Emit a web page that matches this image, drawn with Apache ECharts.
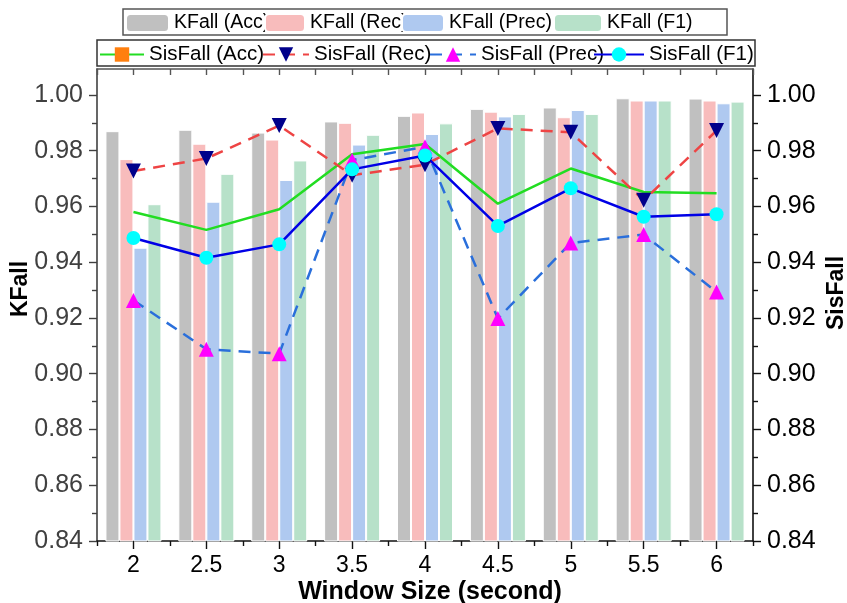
<!DOCTYPE html>
<html>
<head>
<meta charset="utf-8">
<script src="https://cdn.jsdelivr.net/npm/echarts@6/dist/echarts.min.js"></script>
<style>html,body{margin:0;padding:0;background:#fff}#c{width:847px;height:603px}</style>
</head>
<body>
<div id="c"></div>
<script>
var categories = ['2', '2.5', '3', '3.5', '4', '4.5', '5', '5.5', '6'];
var kfallAcc  = [0.987, 0.9875, 0.9865, 0.9905, 0.9925, 0.995, 0.9955, 0.9988, 0.9987];
var kfallRec  = [0.977, 0.9825, 0.984, 0.990, 0.9937, 0.994, 0.992, 0.998, 0.998];
var kfallPrec = [0.9452, 0.9617, 0.9695, 0.9822, 0.986, 0.9923, 0.9946, 0.998, 0.997];
var kfallF1   = [0.9608, 0.9717, 0.9765, 0.9857, 0.9898, 0.9932, 0.9932, 0.998, 0.9976];
var sisAcc  = [0.958, 0.9516, 0.959, 0.9787, 0.9824, 0.961, 0.9736, 0.9652, 0.9647];
var sisRec  = [0.9727, 0.9772, 0.989, 0.9712, 0.975, 0.988, 0.9866, 0.9622, 0.9872];
var sisPrec = [0.9263, 0.9088, 0.9072, 0.9766, 0.9814, 0.9198, 0.9469, 0.9499, 0.9293];
var sisF1   = [0.9487, 0.9416, 0.9464, 0.9733, 0.9783, 0.953, 0.9665, 0.9563, 0.9572];
var yTicks = [0.84, 0.86, 0.88, 0.90, 0.92, 0.94, 0.96, 0.98, 1.00];
var yMinorTicks = [0.85, 0.87, 0.89, 0.91, 0.93, 0.95, 0.97, 0.99];
var yMin = 0.84, yMax = 1.0093;

var FONT = '"Liberation Sans", Arial, sans-serif';
var chart = echarts.init(document.getElementById('c'), null, {renderer: 'canvas'});

function yAxisMajor(pos, labelColor) {
  return {
    type: 'value', position: pos, min: yMin, max: yMax,
    axisLine: {show: true, lineStyle: {color: pos === 'left' ? '#404040' : '#111', width: 1.6}},
    axisTick: {show: true, length: 8, inside: false, customValues: yTicks, lineStyle: {color: pos === 'left' ? '#404040' : '#111', width: 1.4}},
    axisLabel: {show: true, customValues: yTicks, margin: 14, fontSize: 25, fontFamily: FONT, color: labelColor,
      formatter: function (v) { return Number(v).toFixed(2); }},
    splitLine: {show: false}
  };
}
function yAxisMinor(pos) {
  return {
    type: 'value', position: pos, min: yMin, max: yMax,
    axisLine: {show: false},
    axisTick: {show: true, length: 5, inside: false, customValues: yMinorTicks, lineStyle: {color: pos === 'left' ? '#404040' : '#111', width: 1.4}},
    axisLabel: {show: false},
    splitLine: {show: false}
  };
}
function xAxisDef(pos, center, len, inside, showLine, showLabel) {
  return {
    type: 'category', position: pos, data: categories, boundaryGap: true,
    axisLine: {show: showLine, lineStyle: {color: pos === 'bottom' ? '#111' : '#555', width: 1.6}},
    axisTick: {show: true, alignWithLabel: center, interval: 0, length: len, inside: inside, lineStyle: {color: pos === 'bottom' ? '#111' : '#555', width: 1.4}},
    axisLabel: {show: showLabel, margin: 13, fontSize: 23, fontFamily: FONT, color: '#000', interval: 0},
    splitLine: {show: false}
  };
}

function barSeries(name, data, color) {
  return {
    type: 'bar', name: name, data: data, xAxisIndex: 0, yAxisIndex: 0,
    barWidth: 14, barGap: '0%',
    itemStyle: {color: color, borderColor: '#fff', borderWidth: 1},
    silent: true
  };
}
function lineSeries(name, data, lineColor, dash, symbol, symColor, symSize, rotate, showSym) {
  return {
    type: 'line', name: name, data: data, xAxisIndex: 0, yAxisIndex: 2,
    symbol: symbol, symbolSize: symSize, symbolRotate: rotate, showSymbol: showSym,
    lineStyle: {color: lineColor, width: 2.5, type: dash ? [12, 8] : 'solid'},
    itemStyle: {color: symColor},
    silent: true, z: 3
  };
}

function legendItem(name, left, top, w, h, fs) {
  return {
    show: true, left: left, top: top, orient: 'horizontal', padding: 0,
    itemWidth: w, itemHeight: h, data: [name], selectedMode: false,
    textStyle: {fontSize: fs, fontFamily: FONT, color: '#000', padding: [0, 0, 0, 0]}
  };
}

var option = {
  animation: false,
  backgroundColor: '#fff',
  grid: {left: 97, right: 94, top: 69, bottom: 62, containLabel: false},
  xAxis: [
    xAxisDef('bottom', true, 8, false, true, true),
    xAxisDef('bottom', false, 5, false, false, false),
    xAxisDef('top', true, 6, true, true, false),
    xAxisDef('top', false, 6, true, false, false)
  ],
  yAxis: [
    yAxisMajor('left', '#404040'),
    yAxisMinor('left'),
    yAxisMajor('right', '#000'),
    yAxisMinor('right')
  ],
  legend: [
    legendItem('KFall (Acc)', 125, 13, 43, 18, 19.5),
    legendItem('KFall (Rec)', 264, 13, 40, 18, 19.5),
    legendItem('KFall (Prec)', 401, 13, 42, 18, 19.5),
    legendItem('KFall (F1)', 553, 13, 48, 18, 19.5),
    legendItem('SisFall (Acc)', 99, 44, 44, 18, 20.5),
    legendItem('SisFall (Rec)', 262, 44, 46, 18, 20.5),
    legendItem('SisFall (Prec)', 429, 44, 46, 18, 20.5),
    legendItem('SisFall (F1)', 593, 44, 50, 18, 20.5)
  ],
  graphic: [
    {type: 'rect', shape: {x: 123, y: 9, width: 604, height: 26}, style: {fill: 'none', stroke: '#555', lineWidth: 1.5}, silent: true},
    {type: 'rect', shape: {x: 97, y: 40, width: 658, height: 26}, style: {fill: 'none', stroke: '#333', lineWidth: 1.5}, silent: true},
    {type: 'text', x: 21, y: 289, rotation: Math.PI / 2, style: {text: 'KFall', fontSize: 23, fontWeight: 'bold', fontFamily: FONT, fill: '#000', textAlign: 'center', textVerticalAlign: 'middle'}, silent: true},
    {type: 'text', x: 837, y: 293, rotation: Math.PI / 2, style: {text: 'SisFall', fontSize: 23, fontWeight: 'bold', fontFamily: FONT, fill: '#000', textAlign: 'center', textVerticalAlign: 'middle'}, silent: true},
    {type: 'text', x: 430, y: 592, style: {text: 'Window Size (second)', fontSize: 25, fontWeight: 'bold', fontFamily: FONT, fill: '#000', textAlign: 'center', textVerticalAlign: 'middle'}, silent: true}
  ],
  series: [
    barSeries('KFall (Acc)', kfallAcc, '#c0c0c0'),
    barSeries('KFall (Rec)', kfallRec, '#f8bcbc'),
    barSeries('KFall (Prec)', kfallPrec, '#afc9f0'),
    barSeries('KFall (F1)', kfallF1, '#b7e1c9'),
    lineSeries('SisFall (Acc)', sisAcc, '#22dd22', false, 'rect', '#ff7f0e', 12, 0, false),
    lineSeries('SisFall (Rec)', sisRec, '#ee4444', true, 'triangle', '#00008b', 15, 180, true),
    lineSeries('SisFall (Prec)', sisPrec, '#2a6fdb', true, 'triangle', '#ff00ff', 15, 0, true),
    lineSeries('SisFall (F1)', sisF1, '#0000e6', false, 'circle', '#00ffff', 14, 0, true)
  ]
};
chart.setOption(option);
</script>
</body>
</html>
